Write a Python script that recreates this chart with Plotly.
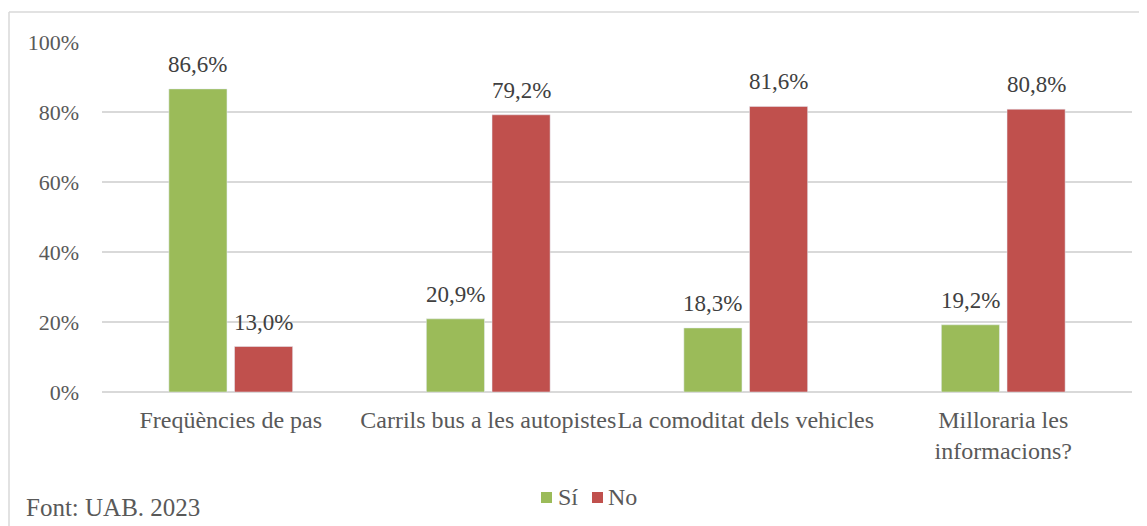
import plotly.graph_objects as go

categories = ["Freqüències de pas", "Carrils bus a les autopistes", "La comoditat dels vehicles", "Milloraria les<br>informacions?"]
series_names = ["Sí", "No"]
si_values = [86.6, 20.9, 18.3, 19.2]
no_values = [13.0, 79.2, 81.6, 80.8]
tick_vals = [0, 20, 40, 60, 80, 100]
tick_text = ["0%", "20%", "40%", "60%", "80%", "100%"]
colors = ["#9BBB59", "#C0504D"]

def fmt(v):
    return f"{v:.1f}%".replace(".", ",")

FONT = "Liberation Serif, Times New Roman, serif"
TXT = "#595959"
W, H = 1147, 526
OFF = 8  # page body margin offset
L, T = 102 - OFF, 42 - OFF
R = W - (1132 - OFF)
B = H - (392 - OFF)
pw = W - L - R
ph = H - T - B
BARGAP, GROUPGAP = 0.49, 0.115
cat_w = pw / len(categories)
slot = cat_w * (1 - BARGAP) / 2
offset = slot / 2

fig = go.Figure()
fig.add_trace(go.Bar(name=series_names[0], x=categories, y=si_values, marker_color=colors[0]))
fig.add_trace(go.Bar(name=series_names[1], x=categories, y=no_values, marker_color=colors[1]))

def px_x(p):
    return (p - OFF - L) / pw

def px_y(p):
    return (H - B - (p - OFF)) / ph

annotations = []
for vals, sh in ((si_values, -offset), (no_values, offset)):
    for c, v in zip(categories, vals):
        annotations.append(dict(x=c, y=v, xref="x", yref="y", text=fmt(v), showarrow=False,
                                xshift=sh, yshift=24.5, yanchor="middle", xanchor="center",
                                font=dict(family=FONT, size=23, color="#404040")))
annotations.append(dict(text="Font: UAB. 2023", xref="paper", yref="paper", x=px_x(24), y=px_y(507),
                        xanchor="left", yanchor="middle", showarrow=False,
                        font=dict(family=FONT, size=25, color=TXT)))

shapes = [
    dict(type="line", xref="paper", yref="paper", x0=px_x(9), x1=px_x(1160), y0=px_y(12), y1=px_y(12),
         line=dict(color="#d9d9d9", width=1.5)),
    dict(type="line", xref="paper", yref="paper", x0=px_x(9), x1=px_x(9), y0=px_y(12), y1=px_y(540),
         line=dict(color="#d9d9d9", width=1.5)),
]
# legend (drawn as key squares + text)
leg_items = [(541, 557, series_names[0], colors[0]), (592, 607, series_names[1], colors[1])]
for sq_x, tx_x, name, col in leg_items:
    shapes.append(dict(type="rect", xref="paper", yref="paper", x0=px_x(sq_x), x1=px_x(sq_x + 11),
                       y0=px_y(503), y1=px_y(492), fillcolor=col, line=dict(width=0)))
    annotations.append(dict(text=name, xref="paper", yref="paper", x=px_x(tx_x), y=px_y(497),
                            xanchor="left", yanchor="middle", showarrow=False, borderpad=0,
                            font=dict(family=FONT, size=24, color=TXT)))

fig.update_layout(
    width=W, height=H,
    margin=dict(l=L, r=R, t=T, b=B, autoexpand=False),
    paper_bgcolor="white", plot_bgcolor="white",
    barmode="group", bargap=BARGAP, bargroupgap=GROUPGAP,
    font=dict(family=FONT, size=22, color=TXT),
    showlegend=False,
    xaxis=dict(showline=False, ticks="", automargin=False, ticklabelstandoff=11, tickangle=0,
               tickfont=dict(family=FONT, size=24, color=TXT)),
    yaxis=dict(range=[0, 100], tickvals=tick_vals, ticktext=tick_text, showgrid=True, automargin=False,
               gridcolor="#d9d9d9", gridwidth=1.5, zeroline=True, zerolinecolor="#d9d9d9",
               zerolinewidth=1.5, ticks="", ticklabelstandoff=22,
               tickfont=dict(family=FONT, size=22, color=TXT)),
    shapes=shapes,
    annotations=annotations,
)

fig.write_html("out.html")
